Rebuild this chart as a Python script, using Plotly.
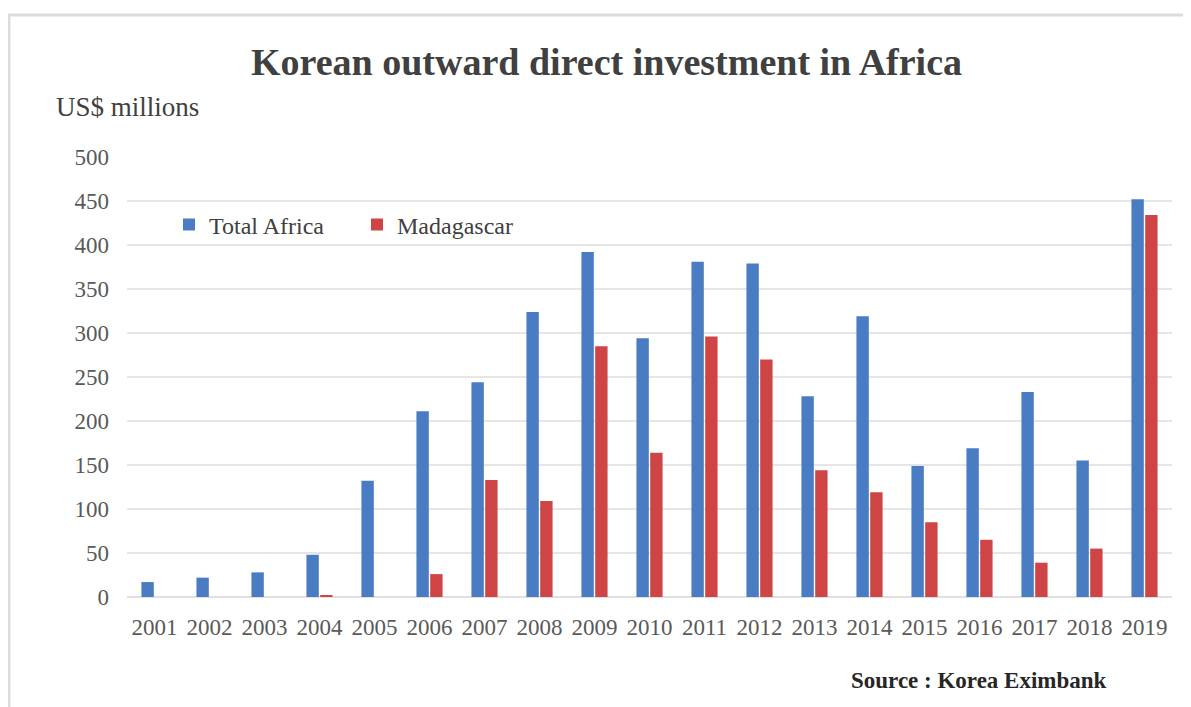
import plotly.graph_objects as go

years = [str(y) for y in range(2001, 2020)]
total_africa = [17, 22, 28, 48, 132, 211, 244, 324, 392, 294, 381, 379, 228, 319, 149, 169, 233, 155, 452]
madagascar = [0, 0, 0, 2, 0, 26, 133, 109, 285, 164, 296, 270, 144, 119, 85, 65, 39, 55, 434]
y_ticks = [0, 50, 100, 150, 200, 250, 300, 350, 400, 450, 500]

# page has an 8px body margin; work in figure coordinates = page - 8
OFF = 8
W, H = 1191 - OFF, 707 - OFF
L, R, T, B = 127 - OFF, 19, 157 - OFF, 110
pw, ph = W - L - R, H - T - B

def px(x):
    return (x - OFF - L) / pw

def py(y):
    return (H - B - (y - OFF)) / ph

serif = "Liberation Serif, Times New Roman, serif"

fig = go.Figure()
fig.add_trace(go.Bar(x=years, y=total_africa, name="Total Africa",
                     marker=dict(color="#4a7cc4", line=dict(width=0))))
fig.add_trace(go.Bar(x=years, y=madagascar, name="Madagascar",
                     marker=dict(color="#cf4444", line=dict(width=0))))

fig.update_layout(
    width=W, height=H,
    margin=dict(l=L, r=R, t=T, b=B, autoexpand=False),
    paper_bgcolor="white", plot_bgcolor="white",
    barmode="group", bargap=0.5, bargroupgap=0.1,
    font=dict(family=serif, color="#595959", size=22),
    showlegend=True,
    legend=dict(orientation="h", x=px(169), y=py(225), xanchor="left", yanchor="middle",
                font=dict(family=serif, size=24, color="#404040"),
                bgcolor="rgba(0,0,0,0)", itemwidth=30, tracegroupgap=0,
                entrywidth=143, entrywidthmode="pixels"),
    xaxis=dict(type="category", showgrid=False, showline=False, ticks="",
               ticklabelstandoff=14,
               tickfont=dict(family=serif, size=23, color="#595959")),
    yaxis=dict(range=[0, 500], tickvals=y_ticks, showgrid=True, gridcolor="#e6e6e6",
               gridwidth=1.5, zeroline=True, zerolinecolor="#e0e0e0", zerolinewidth=1.5,
               showline=False, ticks="", ticklen=0, ticklabelstandoff=17,
               tickfont=dict(family=serif, size=23, color="#595959")),
    annotations=[
        dict(text="<b>Korean outward direct investment in Africa</b>", xref="paper", yref="paper",
             x=px(606), y=py(62), xanchor="center", yanchor="middle", showarrow=False,
             font=dict(family=serif, size=38, color="#404040")),
        dict(text="US$ millions", xref="paper", yref="paper",
             x=px(54), y=py(107), xanchor="left", yanchor="middle", showarrow=False,
             font=dict(family=serif, size=27, color="#404040")),
        dict(text="<b>Source : Korea Eximbank</b>", xref="paper", yref="paper",
             x=px(1109), y=py(680), xanchor="right", yanchor="middle", showarrow=False,
             font=dict(family=serif, size=23, color="#262626")),
    ],
    shapes=[
        dict(type="rect", xref="paper", yref="paper", x0=px(9), x1=px(1250), y0=py(760), y1=py(15),
             line=dict(color="#dcdcdc", width=3), fillcolor="rgba(0,0,0,0)", layer="below"),
    ],
)

fig.write_html("out.html")
